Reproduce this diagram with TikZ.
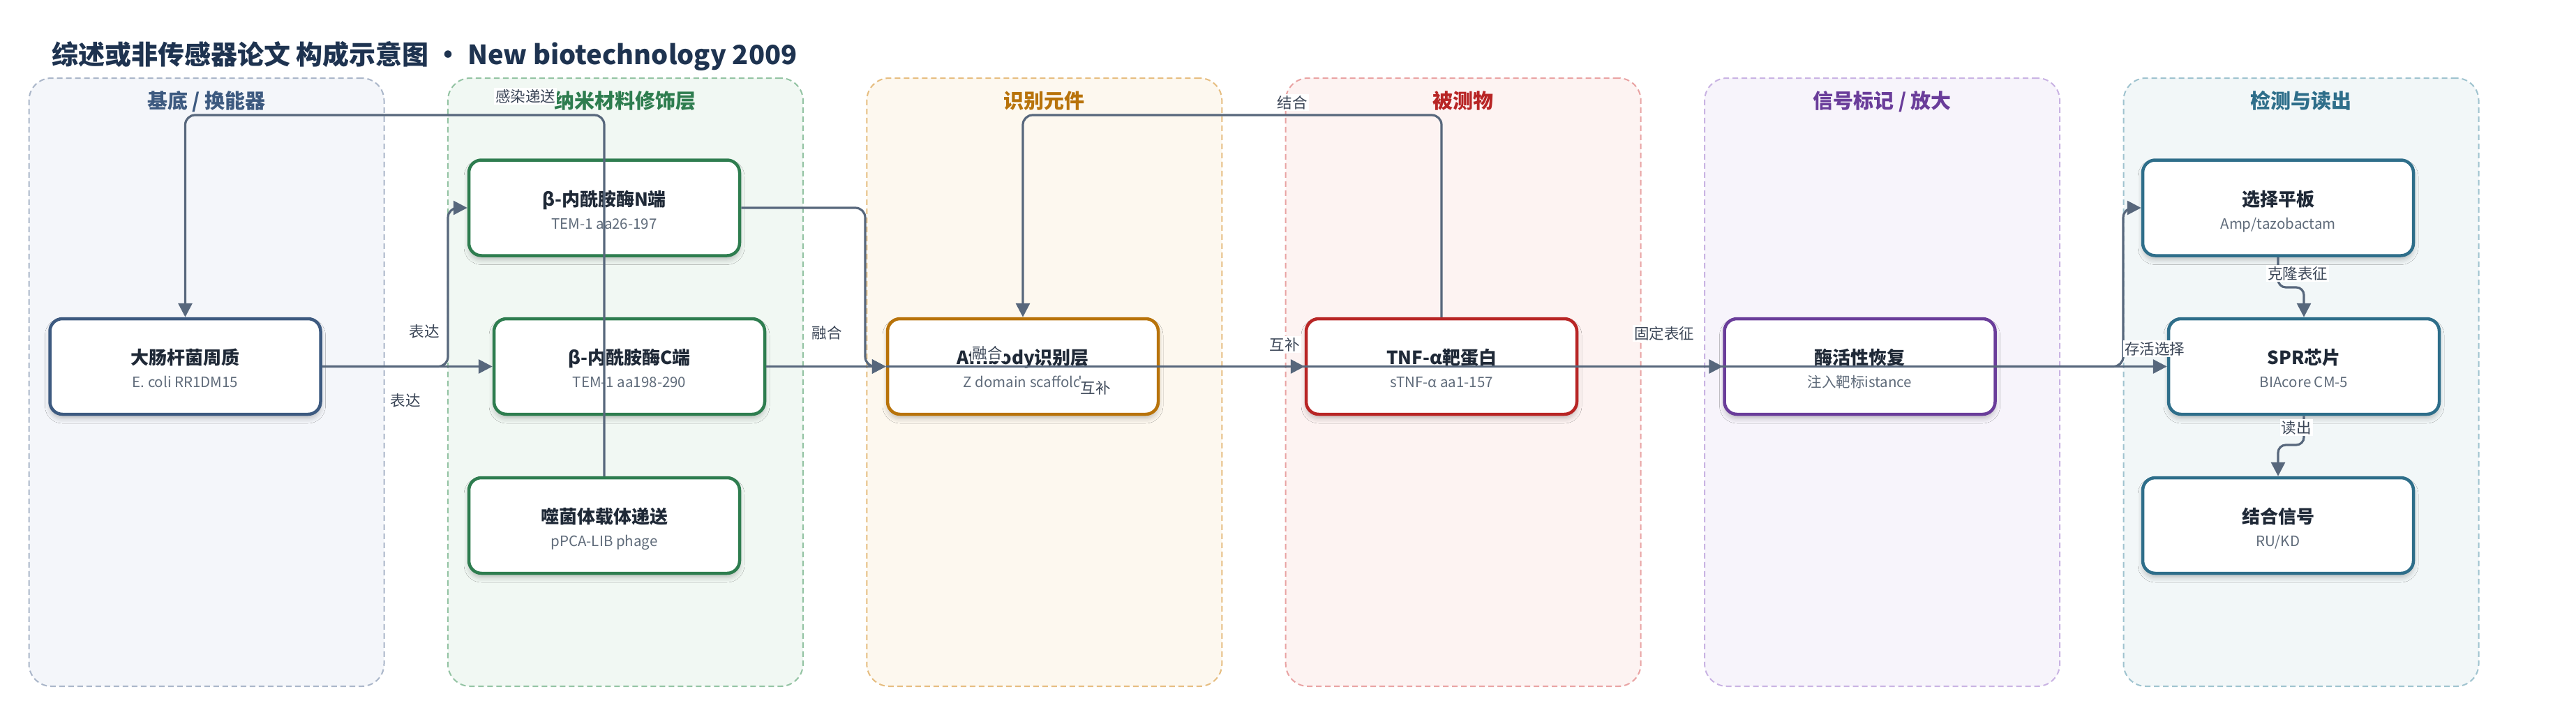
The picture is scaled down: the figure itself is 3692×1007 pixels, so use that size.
\documentclass[tikz,border=0pt]{standalone}
\usepackage{fontspec}
\setmainfont{Noto Sans CJK SC}
\usetikzlibrary{arrows.meta,shadows.blur,calc}
\definecolor{titlecol}{HTML}{1E3350}
\definecolor{edgecol}{HTML}{57677C}
\definecolor{labcol}{HTML}{3A4556}
\definecolor{ttlcol}{HTML}{1F2937}
\definecolor{subcol}{HTML}{5F6B7A}
\definecolor{lAfill}{HTML}{F4F6FA}\definecolor{lAdraw}{HTML}{AAB6C9}\definecolor{cA}{HTML}{3D5A80}
\definecolor{lBfill}{HTML}{F1F8F3}\definecolor{lBdraw}{HTML}{93C3A3}\definecolor{cB}{HTML}{2E7D4F}
\definecolor{lCfill}{HTML}{FDF8EF}\definecolor{lCdraw}{HTML}{E6BD80}\definecolor{cC}{HTML}{B8730A}
\definecolor{lDfill}{HTML}{FDF3F2}\definecolor{lDdraw}{HTML}{E9A3A3}\definecolor{cD}{HTML}{B82525}
\definecolor{lEfill}{HTML}{F7F4FB}\definecolor{lEdraw}{HTML}{C9B3E3}\definecolor{cE}{HTML}{6A3D9A}
\definecolor{lFfill}{HTML}{F2F7F8}\definecolor{lFdraw}{HTML}{9FC3CF}\definecolor{cF}{HTML}{2E6E8A}
\newcommand{\cbox}[6]{%
  \node[box, draw=#4] (#1) at (#2,#3) {};
  \node[ttl] (#1t) at ($(#1.center)+(0,-3)$) {#5};
  \node[sub] (#1s) at ($(#1.center)+(0,30)$) {#6};
}
\begin{document}
\begin{tikzpicture}[x=1pt,y=-1pt,
  lane/.style={rectangle, rounded corners=32pt, minimum width=509pt, minimum height=872pt, line width=2pt, dash pattern=on 8pt off 5pt, inner sep=0pt},
  lanettl/.style={anchor=base, inner sep=0pt, font=\fontsize{29}{32}\selectfont\bfseries},
  box/.style={rectangle, rounded corners=18pt, minimum width=388pt, minimum height=137pt, line width=4.5pt, fill=white, inner sep=0pt,
    blur shadow={shadow xshift=0pt, shadow yshift=-6pt, shadow blur radius=7pt, shadow opacity=22}},
  ttl/.style={anchor=base, inner sep=0pt, text=ttlcol, font=\fontsize{26}{30}\selectfont\bfseries},
  sub/.style={anchor=base, inner sep=0pt, text=subcol, font=\fontsize{20.5}{24}\selectfont},
  edge/.style={draw=edgecol, line width=3.2pt, rounded corners=14pt, -{Triangle[length=20pt,width=20pt]}},
  pline/.style={draw=edgecol, line width=3.2pt},
  elabel/.style={fill=white, inner sep=2pt, text=labcol, font=\fontsize{21.5}{24}\selectfont}
]
\useasboundingbox (0,0) rectangle (3692,1007);
\fill[white] (0,0) rectangle (3692,1007);

\node[anchor=base west, inner sep=0pt, text=titlecol, font=\fontsize{38}{42}\selectfont\bfseries] (title) at (74,92)
  {综述或非传感器论文 构成示意图 • New biotechnology 2009};

% lanes
\node[lane, fill=lAfill, draw=lAdraw] (L1) at (296,548) {};
\node[lane, fill=lBfill, draw=lBdraw] (L2) at (896.4,548) {};
\node[lane, fill=lCfill, draw=lCdraw] (L3) at (1496.8,548) {};
\node[lane, fill=lDfill, draw=lDdraw] (L4) at (2097.2,548) {};
\node[lane, fill=lEfill, draw=lEdraw] (L5) at (2697.6,548) {};
\node[lane, fill=lFfill, draw=lFdraw] (L6) at (3298,548) {};
\node[lanettl, text=cA] (L1t) at (296,155) {基底 / 换能器};
\node[lanettl, text=cB] (L2t) at (896.4,155) {纳米材料修饰层};
\node[lanettl, text=cC] (L3t) at (1496.8,155) {识别元件};
\node[lanettl, text=cD] (L4t) at (2097.2,155) {被测物};
\node[lanettl, text=cE] (L5t) at (2697.6,155) {信号标记 / 放大};
\node[lanettl, text=cF] (L6t) at (3298,155) {检测与读出};

% nodes
\cbox{A}{265.5}{525.5}{cA}{大肠杆菌周质}{E. coli RR1DM15}
\cbox{B}{866}{298}{cB}{β-内酰胺酶N端}{TEM-1 aa26-197}
\cbox{C}{902}{525.5}{cB}{β-内酰胺酶C端}{TEM-1 aa198-290}
\cbox{D}{866}{753.5}{cB}{噬菌体载体递送}{pPCA-LIB phage}
\cbox{E}{1466}{525.5}{cC}{Affibody识别层}{Z domain scaffold}
\cbox{F}{2066}{525.5}{cD}{TNF-α靶蛋白}{sTNF-α aa1-157}
\cbox{G}{2665.5}{525.5}{cE}{酶活性恢复}{注入靶标istance}
\cbox{H}{3265}{298}{cF}{选择平板}{Amp/tazobactam}
\cbox{I}{3302}{525.5}{cF}{SPR芯片}{BIAcore CM-5}
\cbox{J}{3265}{753.5}{cF}{结合信号}{RU/KD}

% routing coordinates
\coordinate (yTop) at (0,165);
\coordinate (xAB) at (642,0);
\coordinate (xBE) at (1240,0);
\coordinate (xGH) at (3043,0);
\coordinate (yHI) at (0,412);
\coordinate (yIJ) at (0,638);

% connectors
\draw[edge] (A.east) -- (C.west);
\draw[edge] (A.east) -- (A.east -| xAB) -- (xAB |- B.west) -- (B.west);
\draw[edge] (D.north) -- (D.north |- yTop) -- (A.north |- yTop) -- (A.north);
\draw[edge] (B.east) -- (B.east -| xBE) -- (xBE |- E.west) -- (E.west);
\draw[edge] (C.east) -- (E.west);
\draw[pline] (E.west) -- (G.east);
\draw[edge] (E.east) -- (F.west);
\draw[edge] (F.north) -- (F.north |- yTop) -- (E.north |- yTop) -- (E.north);
\draw[edge] (F.east) -- (G.west);
\draw[edge] (G.east) -- (I.west);
\draw[edge] (G.east) -- (G.east -| xGH) -- (xGH |- H.west) -- (H.west);
\draw[edge, rounded corners=11pt] (H.south) -- (H.south |- yHI) -- (I.north |- yHI) -- (I.north);
\draw[edge, rounded corners=11pt] (I.south) -- (I.south |- yIJ) -- (J.north |- yIJ) -- (J.north);

% connector labels
\node[elabel] (lb1) at (608,475) {表达};
\node[elabel] (lb2) at (581,574) {表达};
\node[elabel] (lb3) at (753,138) {感染递送};
\node[elabel] (lb4) at (1185,477) {融合};
\node[elabel] (lb5) at (1415,506) {融合};
\node[elabel] (lb6) at (1852,147) {结合};
\node[elabel] (lb7) at (1841,494) {互补};
\node[elabel] (lb8) at (1570,556) {互补};
\node[elabel] (lb9) at (2385,478) {固定表征};
\node[elabel] (lb10) at (3088,500) {存活选择};
\node[elabel] (lb11) at (3293,392) {克隆表征};
\node[elabel] (lb12) at (3291,613) {读出};
\end{tikzpicture}
\end{document}
